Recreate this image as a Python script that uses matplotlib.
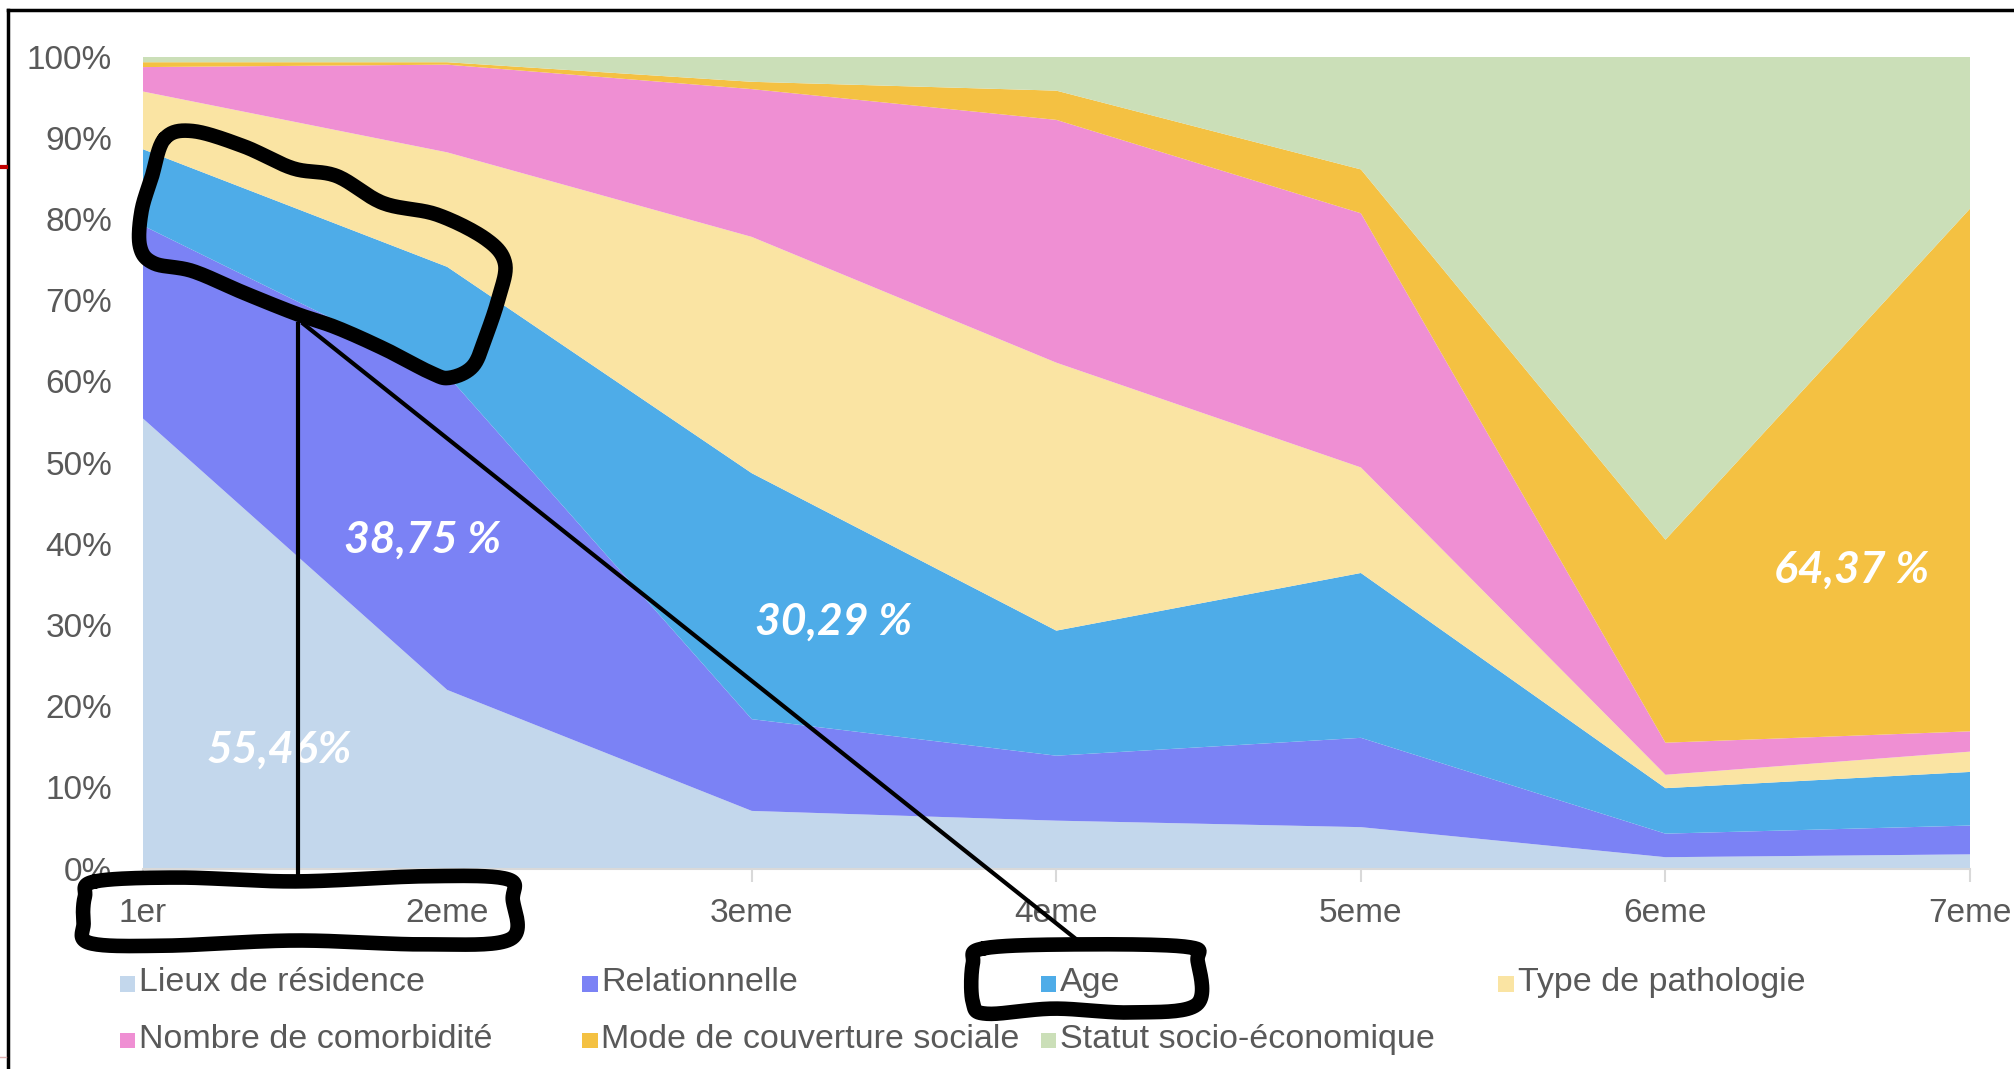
import numpy as np
import matplotlib
matplotlib.use("Agg")
import matplotlib.pyplot as plt
from matplotlib.patches import Rectangle
from matplotlib.lines import Line2D
from matplotlib.ticker import FuncFormatter

categories = ["1er", "2eme", "3eme", "4eme", "5eme", "6eme", "7eme"]
series_names = ["Lieux de résidence", "Relationnelle", "Age", "Type de pathologie",
                "Nombre de comorbidité", "Mode de couverture sociale", "Statut socio-économique"]
lieux = [55.46, 22.0, 7.1, 5.9, 5.1, 1.4, 1.75]
relationnelle = [23.74, 38.75, 11.3, 8.0, 11.0, 2.9, 3.55]
age = [9.4, 13.35, 30.29, 15.4, 20.3, 5.6, 6.6]
pathologie = [7.1, 14.1, 29.1, 33.0, 13.0, 1.65, 2.5]
comorbidite = [3.0, 10.8, 18.2, 29.9, 31.3, 3.95, 2.5]
couverture = [0.6, 0.3, 0.9, 3.6, 5.4, 25.0, 64.37]
statut = [0.7, 0.7, 3.11, 4.2, 13.9, 59.5, 18.73]
annot_labels = ["55,46%", "38,75 %", "30,29 %", "64,37 %"]

colors = ["#C3D7EC", "#7B82F5", "#4EACE8", "#FAE4A3", "#EF8FD3", "#F4C142", "#CBDFB8"]
series = [lieux, relationnelle, age, pathologie, comorbidite, couverture, statut]

W, H = 1568.0, 832.0
def fx(x): return x / W
def fy(y): return 1 - y / H

fig = plt.figure(figsize=(20.15, 10.69), dpi=100)
ax = fig.add_axes([fx(111), fy(676), fx(1533) - fx(111), fy(44) - fy(676)])
x = np.arange(len(categories))
ax.stackplot(x, *series, colors=colors, linewidth=0)
ax.set_xlim(0, len(categories) - 1)
ax.set_ylim(0, 100)
ax.set_yticks(np.arange(0, 101, 10))
ax.yaxis.set_major_formatter(FuncFormatter(lambda v, p: f"{int(v)}%"))
ax.set_xticks(x)
ax.set_xticklabels(categories)
for s in ["top", "right", "left"]:
    ax.spines[s].set_visible(False)
ax.spines["bottom"].set_color("#D9D9D9")
ax.spines["bottom"].set_linewidth(1.5)
ax.axhline(100, color="#D9D9D9", lw=1.2, zorder=0.5)
ax.tick_params(axis="y", length=0, pad=22, labelsize=24, labelcolor="#595959")
ax.tick_params(axis="x", length=9, width=1.5, color="#D9D9D9", pad=12, labelsize=24, labelcolor="#595959")
for lab in ax.get_xticklabels() + ax.get_yticklabels():
    lab.set_fontfamily(["Liberation Sans", "DejaVu Sans"])

# white value labels
lab_pos = [(0.45, 14.6), (0.92, 40.5), (2.27, 30.4), (5.61, 36.8)]
for (px, py), t in zip(lab_pos, annot_labels):
    ax.text(px, py, t, color="white", fontsize=32, fontweight="bold", fontstyle="italic",
            ha="center", va="center", family=["Lato", "DejaVu Sans"])

# legend (manual, equal columns)
leg_rows = [(765, [(95, 0), (455, 1), (812, 2), (1168, 3)]),
            (809, [(95, 4), (455, 5), (812, 6)])]
for yy, items in leg_rows:
    for xx, i in items:
        fig.add_artist(Rectangle((fx(xx - 2), fy(yy + 7)), 12 / W, 12 / H,
                                 transform=fig.transFigure, color=colors[i], lw=0))
        fig.text(fx(xx + 13), fy(yy), series_names[i], fontsize=24.5, color="#595959",
                 va="center", ha="left", family=["Liberation Sans", "DejaVu Sans"])

# frame of screenshot
fig.add_artist(Line2D([fx(6), fx(1568)], [fy(8), fy(8)], transform=fig.transFigure, color="black", lw=2.5))
fig.add_artist(Line2D([fx(6), fx(6)], [fy(8), fy(832)], transform=fig.transFigure, color="black", lw=2.5))
fig.add_artist(Line2D([fx(0), fx(5)], [fy(130), fy(130)], transform=fig.transFigure, color="#C00000", lw=3))
fig.add_artist(Line2D([fx(0), fx(5)], [fy(823), fy(823)], transform=fig.transFigure, color="#E0B0B0", lw=1))

def catmull(pts, n=20):
    pts = np.asarray(pts, float)
    P = np.vstack([pts[-1], pts, pts[0], pts[1]])
    out = []
    for i in range(1, len(P) - 2):
        p0, p1, p2, p3 = P[i - 1], P[i], P[i + 1], P[i + 2]
        for t in np.linspace(0, 1, n, endpoint=False):
            t2, t3 = t * t, t * t * t
            out.append(0.5 * ((2 * p1) + (-p0 + p2) * t + (2 * p0 - 5 * p1 + 4 * p2 - p3) * t2 +
                              (-p0 + 3 * p1 - 3 * p2 + p3) * t3))
    out.append(out[0])
    return np.array(out)

def draw_shape(pts, lw=10.5):
    c = catmull(pts)
    fig.add_artist(Line2D(c[:, 0] / W, 1 - c[:, 1] / H, transform=fig.transFigure,
                          color="black", lw=lw, solid_capstyle="round", solid_joinstyle="round"))

shape1 = [(128, 108), (150, 102), (190, 114), (228, 131), (262, 137), (298, 158), (340, 167),
          (378, 186), (393, 205), (388, 232), (378, 262), (368, 285), (350, 294), (335, 290),
          (300, 272), (262, 255), (230, 244), (190, 228), (150, 211), (120, 205), (109, 192),
          (110, 165), (118, 138)]
shape2 = [(74, 686), (140, 683), (230, 686), (330, 682), (394, 684), (399, 700), (397, 731),
          (330, 735), (230, 732), (130, 736), (70, 734), (65, 718), (66, 698)]
shape3 = [(766, 738), (840, 735), (924, 737), (932, 748), (931, 782), (880, 788), (820, 785),
          (768, 789), (757, 780), (757, 750)]
for s in (shape1, shape2, shape3):
    draw_shape(s)

fig.add_artist(Line2D([fx(232), fx(232)], [fy(252), fy(683)], transform=fig.transFigure, color="black", lw=3))
fig.add_artist(Line2D([fx(236), fx(840)], [fy(252), fy(733)], transform=fig.transFigure, color="black", lw=3))

fig.savefig("out.png", dpi=100, facecolor="white")
